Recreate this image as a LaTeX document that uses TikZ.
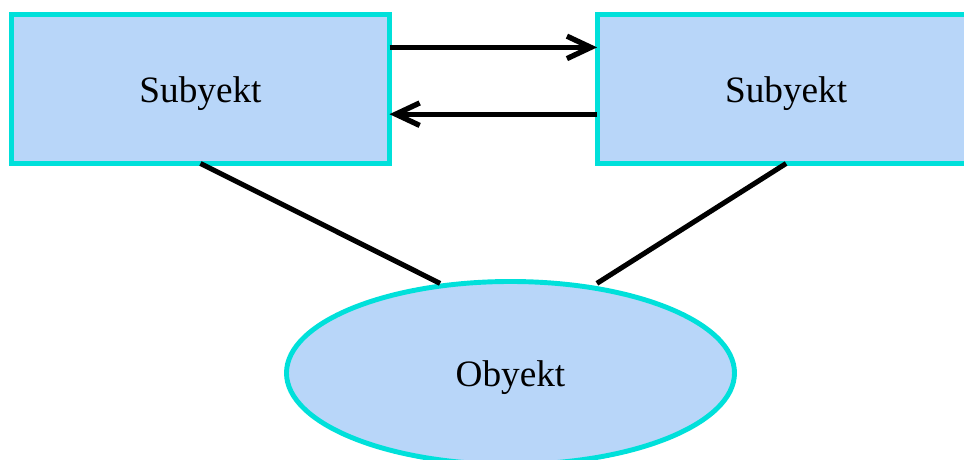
\documentclass[tikz,border=0pt]{standalone}
\usepackage{fontspec}
\setmainfont{Liberation Serif}
\usepackage{xcolor}
\usetikzlibrary{positioning,calc}
\usetikzlibrary{arrows.meta,shapes}
\definecolor{boxfill}{RGB}{184,214,249}
\definecolor{boxline}{RGB}{0,224,218}
\tikzstyle{line} = [-{Straight Barb[length=17pt,width=16pt,line width=3.8pt]},line width=3.8pt]
\tikzstyle{link} = [line width=3.6pt]
\tikzstyle{subj} = [rectangle,draw=boxline,fill=boxfill,line width=3.5pt,outer sep=0pt,
  minimum width=9.45cm,minimum height=3.725cm,text height=25pt,text depth=5.8pt,
  font=\fontsize{26.5}{30}\selectfont]

\begin{document}
\begin{tikzpicture}
        \clip (0,0) rectangle (24.1,11.5);
        \node[subj] (sa) at (5.0125,9.275) {Subyekt};
        \node[subj,right=5.19cm of sa] (sb) {Subyekt};
        \node[ellipse,draw=boxline,fill=boxfill,line width=3.5pt,outer sep=0pt,
          minimum width=11.2cm,minimum height=4.575cm,text height=25pt,text depth=5.8pt,
          font=\fontsize{26.5}{30}\selectfont] (ob) at (12.7625,2.175) {Obyekt};
        \draw[line] ([yshift=1.04cm]sa.east) -- ([yshift=1.04cm]sb.west);
        \draw[line] ([yshift=-0.63cm]sb.west) -- ([yshift=-0.63cm]sa.east);
        \draw[link] (sa.south) -- ($(ob.center)+(-1.76,2.24)$);
        \draw[link] (sb.south) -- ($(ob.center)+(2.16,2.24)$);
    \end{tikzpicture}
\end{document}
